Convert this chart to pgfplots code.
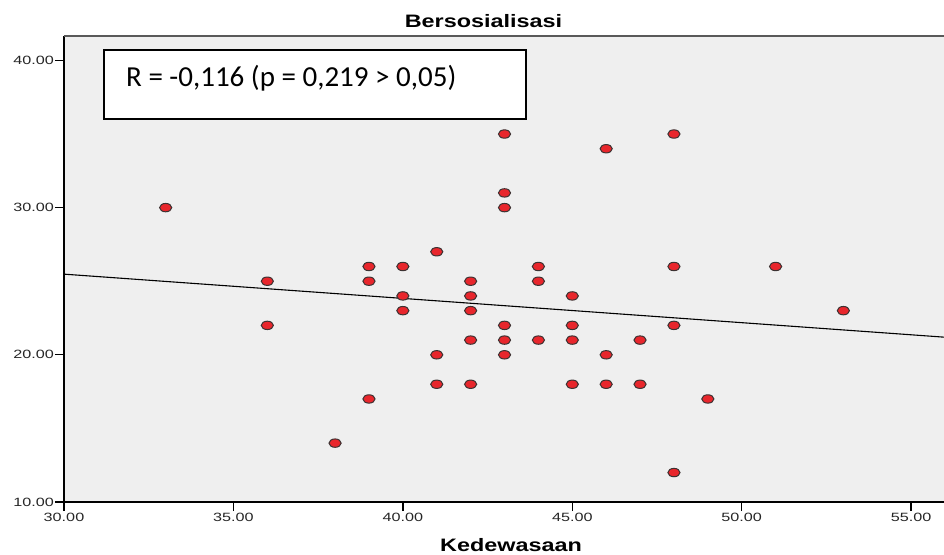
\documentclass[border=0pt]{standalone}
\usepackage{fontspec}
\usepackage{pgfplots}
\pgfplotsset{compat=1.18}
\usepackage{pgfplotstable}
\setmainfont{Liberation Sans}
\newfontfamily\tickfont[FakeStretch=1.35]{Liberation Sans}
\newfontfamily\labfont[FakeStretch=1.3]{Liberation Sans}
\newfontfamily\boxfont{Carlito}
\definecolor{ptfill}{RGB}{232,38,44}
\definecolor{ptline}{RGB}{60,50,50}
\definecolor{bgfill}{RGB}{239,239,239}

% Kedewasaan vs Bersosialisasi
\pgfplotstableread{
x y
33 30
36 25
36 22
38 14
39 26
39 25
39 17
40 26
40 24
40 23
41 27
41 20
41 18
42 25
42 24
42 23
42 21
42 18
43 35
43 31
43 30
43 22
43 21
43 20
44 26
44 25
44 21
45 24
45 22
45 21
45 18
46 34
46 20
46 18
47 21
47 18
48 35
48 26
48 22
48 12
49 17
51 26
53 23
}\scatterdata

\begin{document}
\begin{tikzpicture}
\useasboundingbox (0,0) rectangle (944pt,554pt);
\begin{axis}[
    at={(64pt,52pt)}, anchor=south west,
    width=880pt, height=466pt, scale only axis,
    xmin=30, xmax=55.97, ymin=10, ymax=41.66,
    axis x line=bottom, axis y line=left,
    axis line style={-, line width=1.5pt, black},
    axis background/.style={fill=bgfill},
    xtick={30,35,...,55}, ytick={10,20,30,40},
    tick align=outside, major tick length=9pt,
    every tick/.style={black, line width=1.3pt},
    tick label style={font=\tickfont\fontsize{12}{14}\selectfont, text=black!85},
    yticklabel style={inner sep=1pt},
    xticklabel style={inner sep=2pt},
    /pgf/number format/.cd, fixed, fixed zerofill, precision=2, 1000 sep={}, assume math mode=true,
]
\addplot[only marks, mark=*, mark size=4.2pt,
    mark options={xscale=1.45, fill=ptfill, draw=ptline, line width=1pt}]
    table[x=x, y=y] {\scatterdata};
\addplot[black, line width=1.1pt] coordinates {(30,25.48) (55.97,21.2)};
\draw[gray!70!black, line width=1.5pt] (rel axis cs:0,1) -- (rel axis cs:1,1);
\end{axis}
\draw[black, line width=1.8pt, fill=white] (104pt,504pt) rectangle (526pt,435pt);
\node[anchor=base west, inner sep=0pt, font=\boxfont\fontsize{29}{34}\selectfont]
    at (126pt,467pt) {R = -0,116 (p = 0,219 > 0,05)};
\node[anchor=base, inner sep=0pt, font=\labfont\bfseries\fontsize{18}{22}\selectfont]
    at (483.5pt,526pt) {Bersosialisasi};
\node[anchor=base, inner sep=0pt, font=\labfont\bfseries\fontsize{18}{22}\selectfont]
    at (511pt,3pt) {Kedewasaan};
\end{tikzpicture}
\end{document}
